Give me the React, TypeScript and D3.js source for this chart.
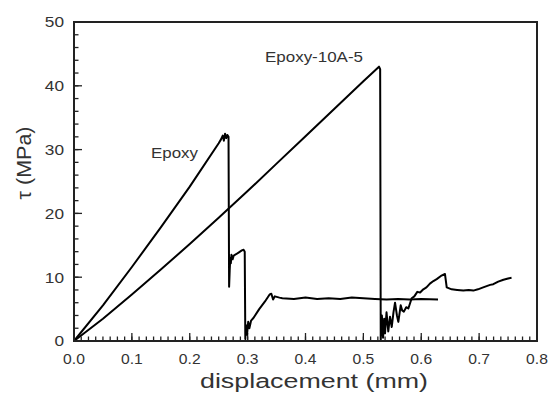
import React from "react";
import * as d3 from "d3";

const X_TICK_LABELS = ["0.0", "0.1", "0.2", "0.3", "0.4", "0.5", "0.6", "0.7", "0.8"];
const Y_TICK_LABELS = ["0", "10", "20", "30", "40", "50"];
const X_TICKS = [0, 0.1, 0.2, 0.3, 0.4, 0.5, 0.6, 0.7, 0.8];
const Y_TICKS = [0, 10, 20, 30, 40, 50];

// Epoxy (displacement mm, shear stress MPa)
const epoxyX = [
  0, 0.05, 0.1, 0.15, 0.2, 0.25, 0.254, 0.257, 0.259, 0.261, 0.263, 0.265, 0.267,
  0.268, 0.269, 0.27, 0.271, 0.272, 0.274, 0.276, 0.28, 0.285, 0.29, 0.293, 0.295,
  0.296, 0.297, 0.299, 0.301, 0.303, 0.306, 0.31, 0.32, 0.33, 0.338, 0.341, 0.344, 0.347,
  0.355, 0.36, 0.38, 0.4, 0.42, 0.44, 0.46, 0.48, 0.5, 0.52, 0.54, 0.56, 0.58, 0.6, 0.629,
];
const epoxyY = [
  0, 5.6, 11.6, 17.8, 24.2, 31.0, 31.6, 32.2, 31.4, 32.5, 31.8, 32.3, 32.0,
  8.5, 11.0, 13.0, 12.2, 13.5, 12.8, 13.4, 13.6, 13.9, 14.2, 14.3, 14.0,
  0.3, 2.5, 1.0, 3.0, 2.0, 3.2, 3.6, 5.0, 6.2, 7.3, 7.4, 6.5, 7.0,
  6.8, 6.7, 6.6, 6.8, 6.6, 6.7, 6.6, 6.8, 6.7, 6.6, 6.5, 6.6, 6.5, 6.6, 6.5,
];

// Epoxy-10A-5
const epoxy10X = [
  0, 0.05, 0.1, 0.15, 0.2, 0.25, 0.3, 0.35, 0.4, 0.45, 0.5, 0.527, 0.529,
  0.53, 0.532, 0.534, 0.536, 0.5374, 0.54, 0.543, 0.546, 0.549, 0.552, 0.5547, 0.558,
  0.5604, 0.5645, 0.567, 0.57, 0.574, 0.5777, 0.5835, 0.588, 0.5932, 0.598, 0.6036,
  0.609, 0.615, 0.621, 0.6267, 0.634, 0.641, 0.644, 0.6526, 0.662, 0.6727, 0.682,
  0.69, 0.698, 0.707, 0.713, 0.719, 0.7245, 0.733, 0.742, 0.75, 0.756,
];
const epoxy10Y = [
  0, 3.5, 7.3, 11.2, 15.2, 19.3, 23.5, 27.8, 32.1, 36.4, 40.7, 43.0, 42.6,
  0.2, 4.0, 0.5, 3.5, 1.2, 4.5, 1.5, 3.8, 2.2, 4.5, 6.0, 4.0,
  3.0, 5.6, 4.8, 4.6, 5.3, 5.1, 6.7, 7.0, 7.7, 7.6, 8.1,
  8.4, 9.0, 9.4, 9.7, 10.2, 10.5, 8.4, 8.1, 8.0, 7.9, 8.0,
  7.9, 8.1, 8.4, 8.6, 8.8, 8.9, 9.3, 9.6, 9.8, 9.9,
];

const LABELS = ["Epoxy", "Epoxy-10A-5"];
const X_TITLE = "displacement (mm)";
const Y_TITLE = "τ (MPa)";

const W = 553;
const H = 408;
const M = { left: 74, top: 22, right: 537, bottom: 341 };

export default function App() {
  const x = d3.scaleLinear().domain([0, 0.8]).range([M.left, M.right]);
  const y = d3.scaleLinear().domain([0, 50]).range([M.bottom, M.top]);
  const line = d3
    .line<[number, number]>()
    .x((d) => x(d[0]))
    .y((d) => y(d[1]));

  const epoxy = epoxyX.map((v, i) => [v, epoxyY[i]] as [number, number]);
  const epoxy10 = epoxy10X.map((v, i) => [v, epoxy10Y[i]] as [number, number]);

  const xMinor = d3.range(0, 0.8001, 0.0125);
  const yMinor = d3.range(0, 50.001, 2);

  const font = "'Liberation Sans', Arial, Helvetica, sans-serif";
  const axisColor = "#222";
  const textColor = "#333";

  return (
    <svg
      width={W}
      height={H}
      style={{ position: "absolute", left: 0, top: 0, background: "#fff" }}
      fontFamily={font}
    >
      <rect x={0} y={0} width={W} height={H} fill="#fff" />
      {/* minor ticks */}
      {xMinor.map((t, i) => (
        <line key={"xm" + i} x1={x(t)} x2={x(t)} y1={M.bottom} y2={M.bottom - 4.5} stroke={axisColor} strokeWidth={1.3} />
      ))}
      {yMinor.map((t, i) => (
        <line key={"ym" + i} x1={M.left} x2={M.left + 4.5} y1={y(t)} y2={y(t)} stroke={axisColor} strokeWidth={1.3} />
      ))}
      {X_TICKS.map((t, i) => (
        <line key={"xM" + i} x1={x(t)} x2={x(t)} y1={M.bottom} y2={M.bottom - 8} stroke={axisColor} strokeWidth={1.3} />
      ))}
      {Y_TICKS.map((t, i) => (
        <line key={"yM" + i} x1={M.left} x2={M.left + 8} y1={y(t)} y2={y(t)} stroke={axisColor} strokeWidth={1.3} />
      ))}
      {/* curves */}
      <path d={line(epoxy) || ""} fill="none" stroke="#000" strokeWidth={2} strokeLinejoin="round" />
      <path d={line(epoxy10) || ""} fill="none" stroke="#000" strokeWidth={2} strokeLinejoin="round" />
      {/* frame */}
      <rect
        x={M.left}
        y={M.top}
        width={M.right - M.left}
        height={M.bottom - M.top}
        fill="none"
        stroke={axisColor}
        strokeWidth={2}
      />
      {/* tick labels */}
      {X_TICKS.map((t, i) => (
        <text
          key={"xl" + i}
          x={x(t)}
          y={364}
          textAnchor="middle"
          fontSize={14}
          fill={textColor}
          transform={`translate(${x(t)},0) scale(1.12,1) translate(${-x(t)},0)`}
        >
          {X_TICK_LABELS[i]}
        </text>
      ))}
      {Y_TICKS.map((t, i) => (
        <text
          key={"yl" + i}
          x={64}
          y={y(t)}
          dy="0.36em"
          textAnchor="end"
          fontSize={15}
          fill={textColor}
          transform={`translate(64,0) scale(1.15,1) translate(-64,0)`}
        >
          {Y_TICK_LABELS[i]}
        </text>
      ))}
      {/* axis titles */}
      <text
        x={314}
        y={388}
        textAnchor="middle"
        fontSize={20}
        fill={textColor}
        textLength={228}
        lengthAdjust="spacingAndGlyphs"
      >
        {X_TITLE}
      </text>
      <text
        x={-163}
        y={31}
        transform="rotate(-90)"
        textAnchor="middle"
        fontSize={20}
        fill={textColor}
        textLength={73}
        lengthAdjust="spacingAndGlyphs"
      >
        {Y_TITLE}
      </text>
      {/* annotations */}
      <text x={151} y={158} fontSize={14} fill={textColor} textLength={47} lengthAdjust="spacingAndGlyphs">
        {LABELS[0]}
      </text>
      <text x={265} y={62} fontSize={14} fill={textColor} textLength={98} lengthAdjust="spacingAndGlyphs">
        {LABELS[1]}
      </text>
    </svg>
  );
}
